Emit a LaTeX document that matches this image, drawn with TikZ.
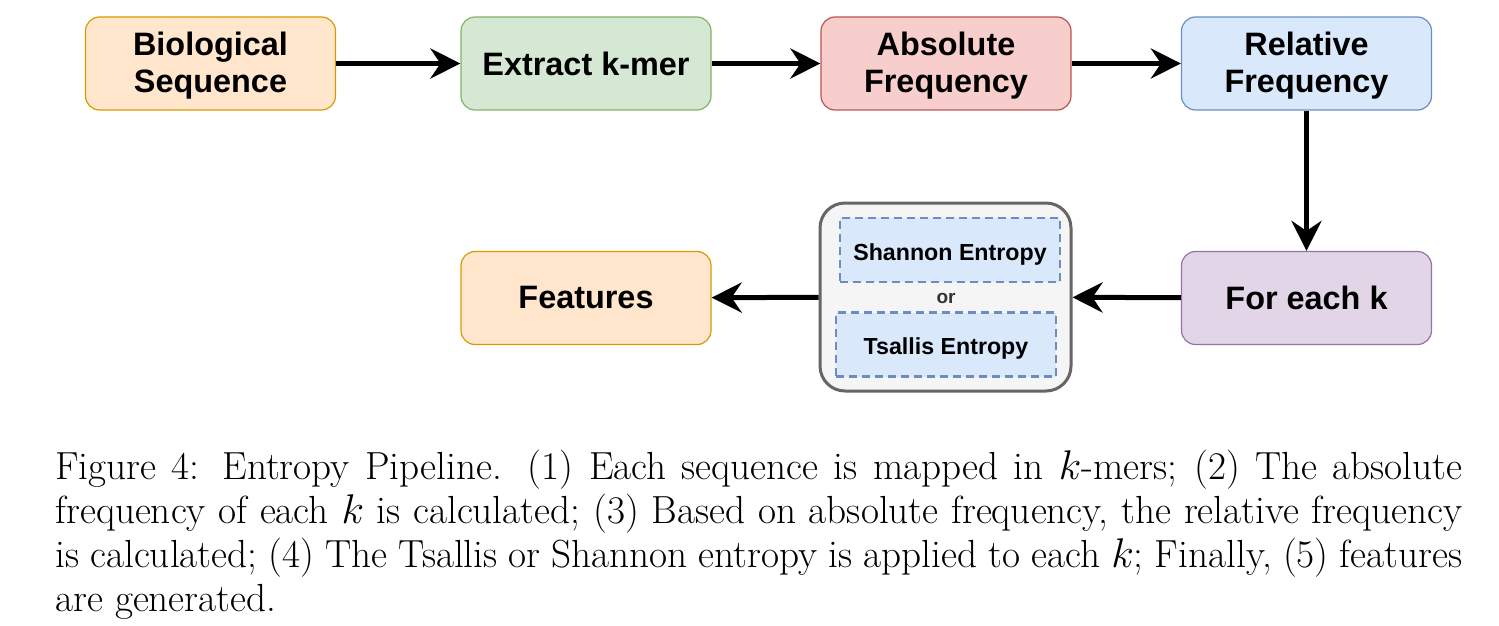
\documentclass[tikz,border=0pt]{standalone}
\usepackage{fontspec}
\setmainfont{Latin Modern Roman}
\newfontfamily\boxfont{Liberation Sans}
\usetikzlibrary{arrows.meta}
\definecolor{orfill}{HTML}{FFE6CC}\definecolor{ordraw}{HTML}{D79B00}
\definecolor{grfill}{HTML}{D5E8D4}\definecolor{grdraw}{HTML}{82B366}
\definecolor{rdfill}{HTML}{F8CECC}\definecolor{rddraw}{HTML}{B85450}
\definecolor{blfill}{HTML}{DAE8FC}\definecolor{bldraw}{HTML}{6C8EBF}
\definecolor{pufill}{HTML}{E1D5E7}\definecolor{pudraw}{HTML}{9673A6}
\definecolor{gyfill}{HTML}{F5F5F5}\definecolor{gydraw}{HTML}{666666}
\tikzset{
  procbox/.style={rectangle, rounded corners=7pt, line width=0.6pt,
    minimum width=125pt, minimum height=46.5pt, inner sep=0pt, align=center,
    font=\boxfont\bfseries\fontsize{16.2}{18.5}\selectfont},
  inbox/.style={rectangle, draw=bldraw, fill=blfill, line width=1.4pt,
    dash pattern=on 4pt off 2.5pt, minimum width=110pt, minimum height=32pt,
    inner sep=0pt, font=\boxfont\bfseries\fontsize{11.6}{13}\selectfont},
  flow/.style={line width=2.5pt, -{Stealth[length=15pt,width=15pt,inset=5pt]}},
}
\begin{document}
\begin{tikzpicture}[x=0.5pt,y=-0.5pt]
\useasboundingbox (0,0) rectangle (1499,626);
\node[procbox, fill=orfill, draw=ordraw] (bs) at (210.5,63.5) {\raisebox{-1pt}[\height][\depth]{Biological}\\\raisebox{-1pt}[\height][\depth]{Sequence}};
\node[procbox, fill=grfill, draw=grdraw] (ek) at (586,63.5) {Extract k-mer};
\node[procbox, fill=rdfill, draw=rddraw] (af) at (946,63.5) {\raisebox{-1pt}[\height][\depth]{Absolute}\\\raisebox{-1pt}[\height][\depth]{Frequency}};
\node[procbox, fill=blfill, draw=bldraw] (rf) at (1306.5,63.5) {\raisebox{-1pt}[\height][\depth]{Relative}\\\raisebox{-1pt}[\height][\depth]{Frequency}};
\node[procbox, fill=pufill, draw=pudraw] (fk) at (1306.5,298) {For each k};
\node[procbox, fill=orfill, draw=ordraw] (fe) at (586,298) {Features};
\node[rectangle, rounded corners=12.5pt, fill=gyfill, draw=gydraw, line width=1.5pt,
  minimum width=125.5pt, minimum height=94pt, inner sep=0pt] (ent) at (945.5,297) {};
\node[inbox] (sh) at (950,250) {\raisebox{-2pt}[\height][\depth]{Shannon Entropy}};
\node[inbox] (ts) at (946,344.5) {\raisebox{-2pt}[\height][\depth]{Tsallis Entropy}};
\node[font=\boxfont\bfseries\fontsize{9.5}{11}\selectfont, text=black!80, inner sep=0pt] (or) at (946,298) {or};
\draw[flow] (bs) -- (ek);
\draw[flow] (ek) -- (af);
\draw[flow] (af) -- (rf);
\draw[flow] (rf) -- (fk);
\draw[flow] (fk) -- (ent);
\draw[flow] (ent) -- (fe);
\node[anchor=north west, inner sep=0pt, text width=703.5pt, align=justify,
  font=\fontsize{19.6}{22}\selectfont] (cap) at (55,450)
  {Figure 4: Entropy Pipeline. (1) Each sequence is mapped in $k$-mers; (2) The absolute\linebreak
   frequency of each $k$ is calculated; (3) Based on absolute frequency, the relative frequency\linebreak
   is calculated; (4) The Tsallis or Shannon entropy is applied to each $k$; Finally, (5) features\linebreak
   are generated.};
\end{tikzpicture}
\end{document}
